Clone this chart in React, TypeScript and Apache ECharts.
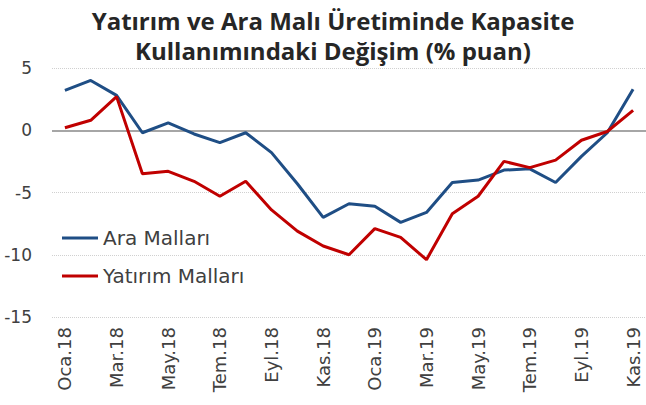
import React, { useEffect, useRef } from "react";
import * as echarts from "echarts";

const categories = [
  "Oca.18", "Şub.18", "Mar.18", "Nis.18", "May.18", "Haz.18", "Tem.18", "Ağu.18",
  "Eyl.18", "Eki.18", "Kas.18", "Ara.18", "Oca.19", "Şub.19", "Mar.19", "Nis.19",
  "May.19", "Haz.19", "Tem.19", "Ağu.19", "Eyl.19", "Eki.19", "Kas.19",
];
const araMallari = [3.2, 4.0, 2.8, -0.2, 0.6, -0.3, -1.0, -0.2, -1.8, -4.3, -7.0, -5.9, -6.1, -7.4, -6.6, -4.2, -4.0, -3.2, -3.1, -4.2, -2.1, -0.2, 3.3];
const yatirimMallari = [0.2, 0.8, 2.7, -3.5, -3.3, -4.1, -5.3, -4.1, -6.4, -8.1, -9.3, -10.0, -7.9, -8.6, -10.4, -6.7, -5.3, -2.5, -3.0, -2.4, -0.8, -0.1, 1.6];
const yMin = -15;
const yMax = 5;
const yInterval = 5;

const FONT = "'DejaVu Sans', sans-serif";

export default function App() {
  const ref = useRef<HTMLDivElement>(null);
  useEffect(() => {
    if (!ref.current) return;
    const chart = echarts.init(ref.current, undefined, { renderer: "svg" });
    chart.setOption({
      animation: false,
      backgroundColor: "#ffffff",
      title: {
        text: "Yatırım ve Ara Malı Üretiminde Kapasite\nKullanımındaki Değişim (% puan)",
        left: 333,
        textAlign: "center",
        top: 5,
        padding: 0,
        textStyle: {
          fontFamily: "'Open Sans', sans-serif",
          fontWeight: "bold",
          fontSize: 24,
          lineHeight: 30,
          color: "#262626",
        },
      },
      legend: {
        orient: "vertical",
        left: 62,
        top: 228,
        padding: 0,
        itemGap: 18,
        itemWidth: 36,
        itemHeight: 3,
        icon: "rect",
        textStyle: { fontFamily: FONT, fontSize: 20, lineHeight: 20, color: "#404040" },
        data: ["Ara Malları", "Yatırım Malları"],
      },
      grid: { left: 52, top: 68, width: 598, height: 249, containLabel: false },
      xAxis: {
        type: "category",
        data: categories,
        boundaryGap: true,
        axisLine: { show: false },
        axisTick: { show: false },
        axisLabel: {
          interval: 1,
          rotate: 90,
          margin: 10,
          fontFamily: FONT,
          fontSize: 18,
          color: "#404040",
        },
        splitLine: { show: false },
      },
      yAxis: {
        type: "value",
        min: yMin,
        max: yMax,
        interval: yInterval,
        axisLine: { show: false },
        axisTick: { show: false },
        axisLabel: { margin: 20, fontFamily: FONT, fontSize: 17, color: "#404040" },
        splitLine: { show: true, lineStyle: { type: "dotted", color: "#d0d0d0", width: 1 } },
      },
      series: [
        {
          name: "Ara Malları",
          type: "line",
          data: araMallari,
          symbol: "none",
          lineStyle: { color: "#1f4e85", width: 3 },
          itemStyle: { color: "#1f4e85" },
          markLine: {
            silent: true,
            symbol: "none",
            label: { show: false },
            lineStyle: { color: "#a6a6a6", width: 2, type: "solid" },
            data: [{ yAxis: 0 }],
            z: 1,
          },
          z: 3,
        },
        {
          name: "Yatırım Malları",
          type: "line",
          data: yatirimMallari,
          symbol: "none",
          lineStyle: { color: "#c00000", width: 3 },
          itemStyle: { color: "#c00000" },
          z: 4,
        },
      ],
    });
    return () => chart.dispose();
  }, []);
  return (
    <div
      ref={ref}
      style={{ position: "absolute", left: 0, top: 0, width: 646, height: 405 }}
    />
  );
}
